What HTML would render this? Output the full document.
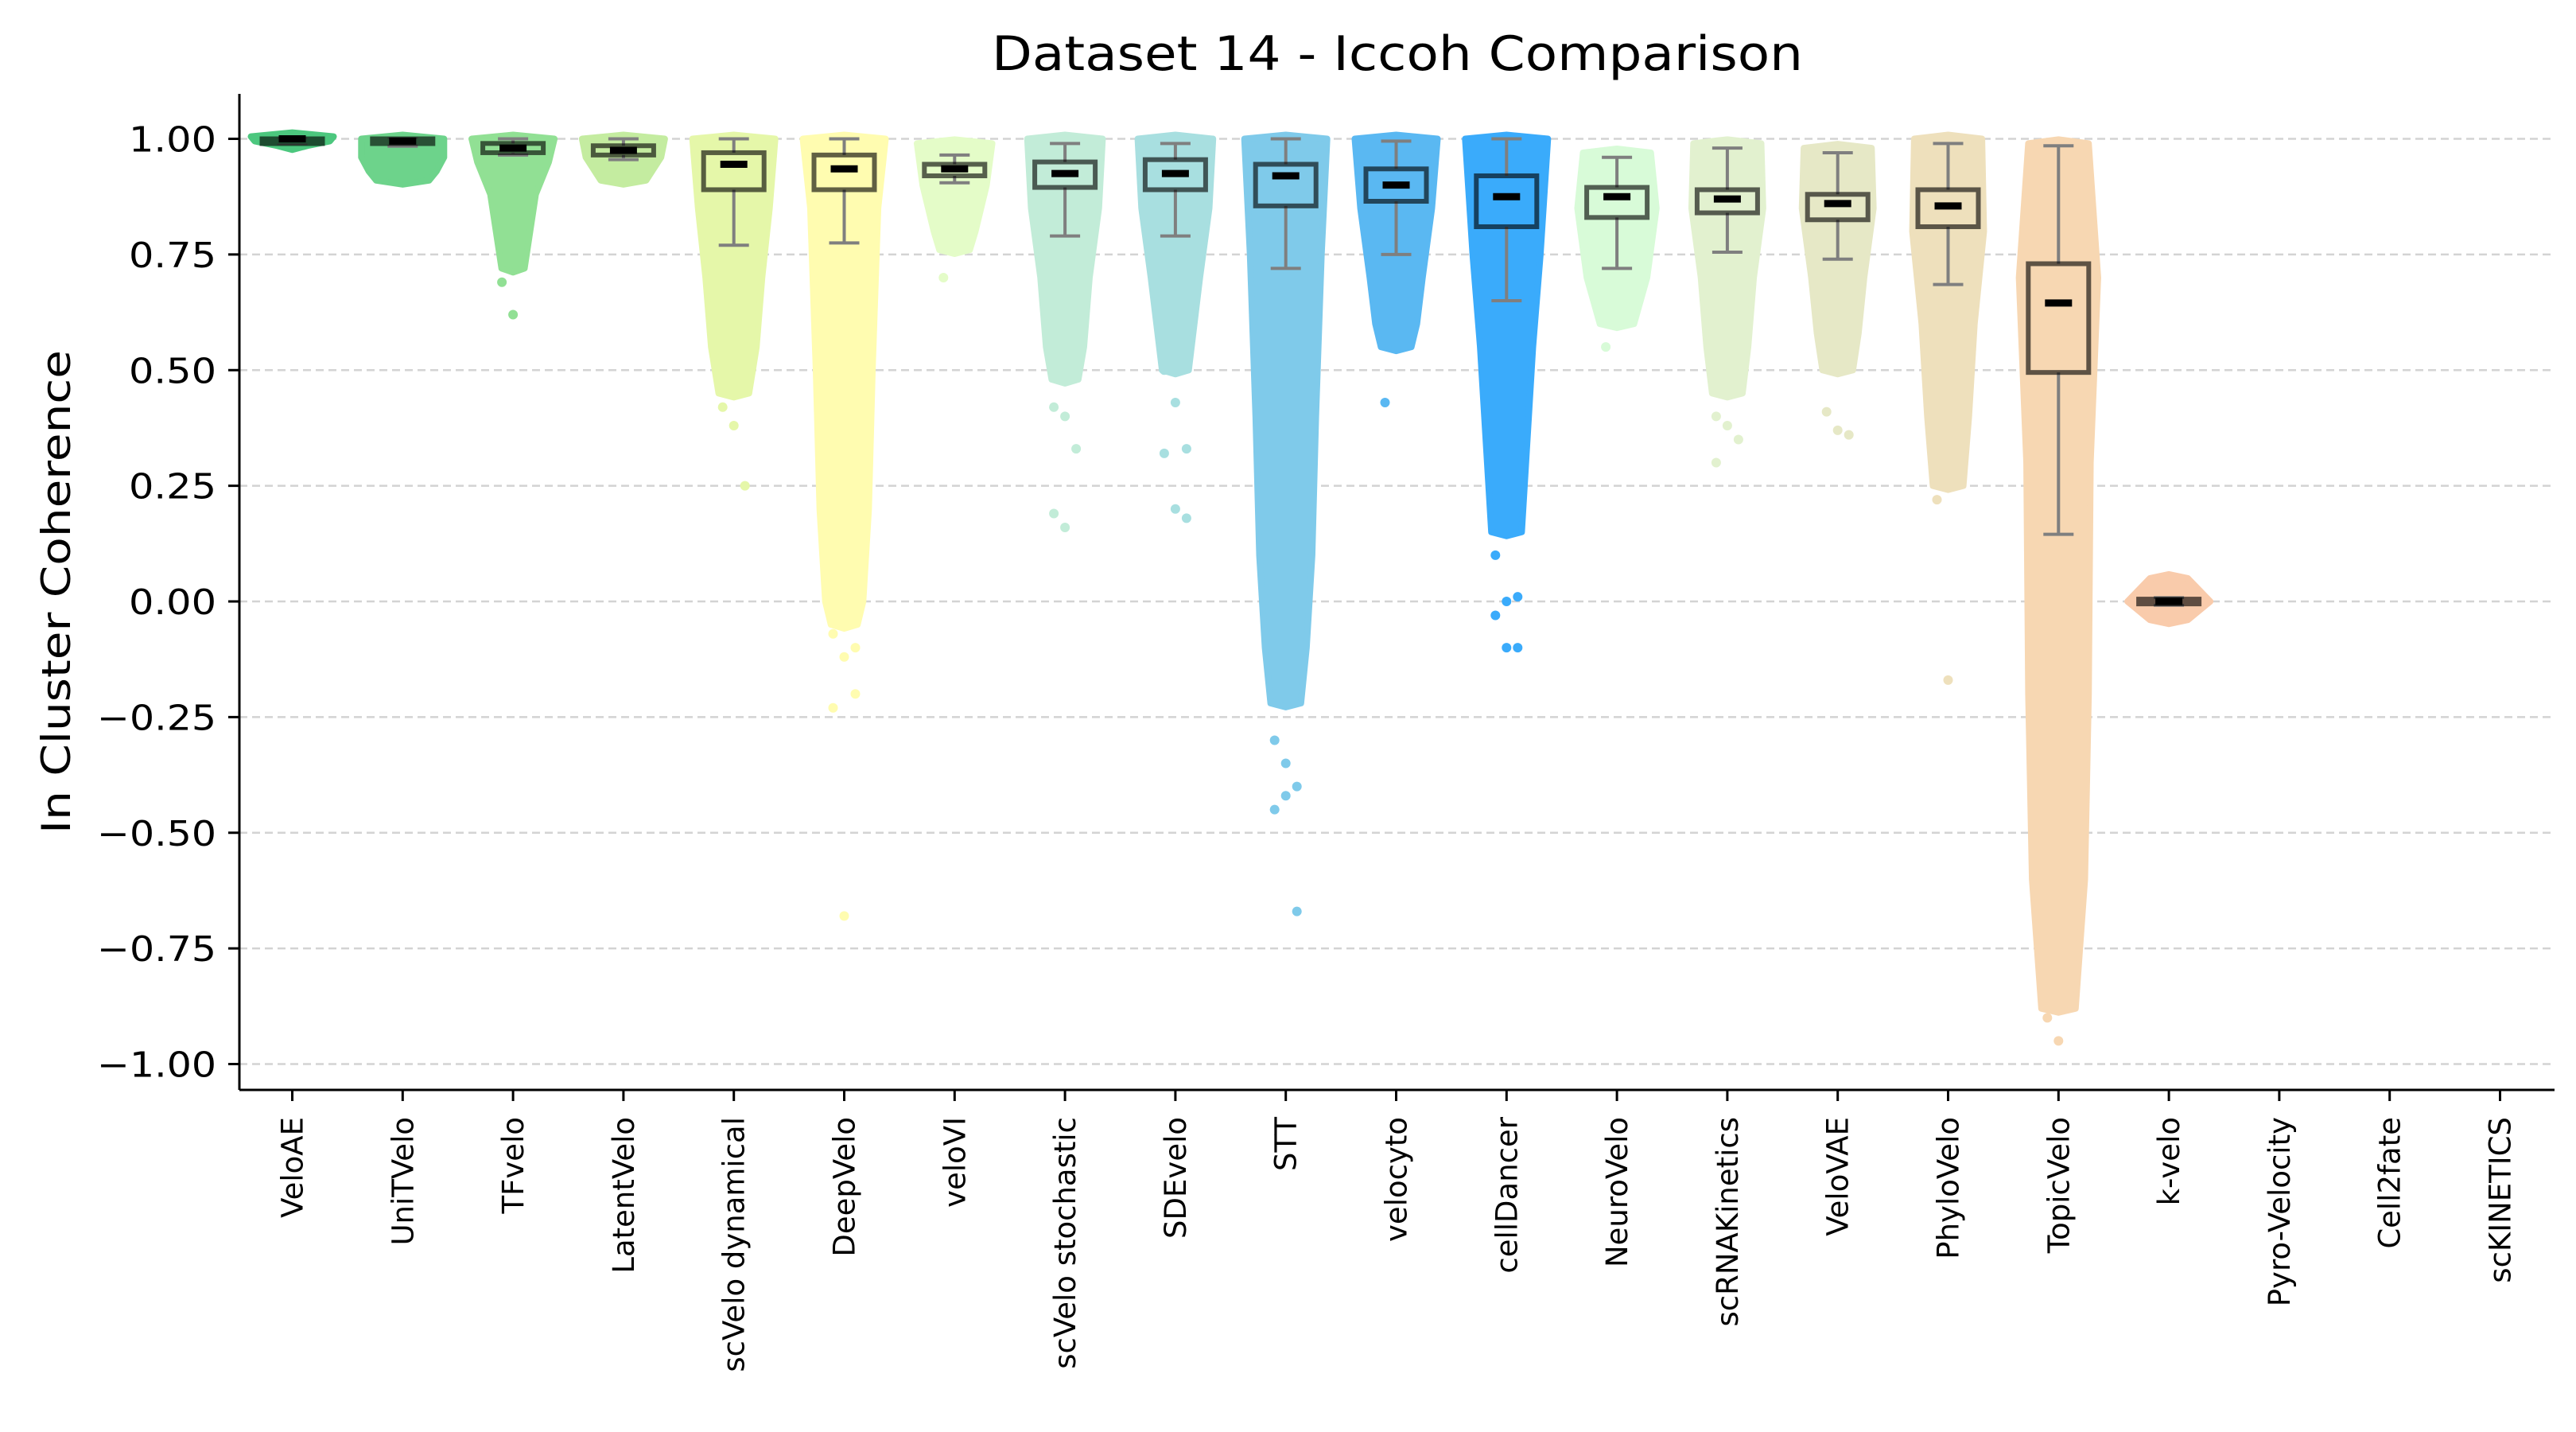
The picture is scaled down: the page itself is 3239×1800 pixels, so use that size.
<!DOCTYPE html>
<html><head><meta charset="utf-8"><style>
html,body{margin:0;padding:0;background:#fff;}
svg{display:block;font-family:"DejaVu Sans","Liberation Sans",sans-serif;}
</style></head><body>
<svg id="chart" width="3239" height="1800" viewBox="0 0 3239 1800" xmlns="http://www.w3.org/2000/svg">
<text x="1757" y="88" font-size="60" text-anchor="middle" textLength="1020" lengthAdjust="spacingAndGlyphs">Dataset 14 - Iccoh Comparison</text>
<text transform="translate(88,744) rotate(-90)" font-size="50" text-anchor="middle" textLength="608" lengthAdjust="spacingAndGlyphs">In Cluster Coherence</text>
<g id="grid"></g><g id="strips"></g><g id="boxes"></g><g id="axes"></g>
</svg>
<script>
const categories=["VeloAE","UniTVelo","TFvelo","LatentVelo","scVelo dynamical","DeepVelo","veloVI","scVelo stochastic","SDEvelo","STT","velocyto","cellDancer","NeuroVelo","scRNAKinetics","VeloVAE","PhyloVelo","TopicVelo","k-velo","Pyro-Velocity","Cell2fate","scKINETICS"];
const colors=["#4cc77e","#6dd38b","#91e094","#c4eca0","#e5f7a9","#fffcb0","#e4fcc8","#c2ecd8","#a8dfe0","#7fcaea","#5ab8f2","#3aabfb","#d8fbd8","#e2f1cf","#e6e8c6","#eee0bc","#f7d7b2","#f9cbab","#ddd","#ddd","#ddd"];
const whiskerLow=[0.99,0.984,0.965,0.955,0.77,0.775,0.905,0.79,0.79,0.72,0.75,0.65,0.72,0.755,0.74,0.685,0.145,-0.008,null,null,null];
const q1=[0.995,0.99,0.97,0.965,0.89,0.89,0.92,0.895,0.89,0.855,0.865,0.81,0.83,0.84,0.825,0.81,0.495,-0.005,null,null,null];
const medians=[1.0,0.995,0.98,0.975,0.945,0.935,0.935,0.925,0.925,0.92,0.9,0.875,0.875,0.87,0.86,0.855,0.645,0.0,null,null,null];
const q3=[1.0,1.0,0.99,0.985,0.97,0.965,0.945,0.95,0.955,0.945,0.935,0.92,0.895,0.89,0.88,0.89,0.73,0.005,null,null,null];
const whiskerHigh=[1.0,1.0,1.0,1.0,1.0,1.0,0.965,0.99,0.99,1.0,0.995,1.0,0.96,0.98,0.97,0.99,0.985,0.008,null,null,null];
// strip envelopes: values (top->bottom) and relative spread widths
const stripValues=[[1.005,0.995,0.985],[1.0,0.96,0.93,0.91],[1.0,0.95,0.88,0.8,0.72],[1.0,0.96,0.91],[1.0,0.85,0.7,0.55,0.45],[1.0,0.85,0.5,0.2,0.0,-0.05],[0.99,0.9,0.8,0.76],[1.0,0.85,0.7,0.55,0.48],[1.0,0.85,0.7,0.6,0.5],[1.0,0.75,0.4,0.1,-0.1,-0.22],[1.0,0.85,0.7,0.6,0.55],[1.0,0.75,0.55,0.35,0.15],[0.97,0.85,0.7,0.6],[0.99,0.85,0.7,0.55,0.45],[0.98,0.85,0.7,0.58,0.5],[1.0,0.8,0.6,0.4,0.25],[0.99,0.7,0.3,-0.2,-0.6,-0.88],[0.05,0.0,-0.04],[],[],[]];
const stripWidths=[[1,0.9,0.3],[1,1,0.8,0.6],[1,0.85,0.5,0.35,0.2],[1,0.9,0.5],[1,0.85,0.65,0.5,0.3],[1,0.8,0.65,0.55,0.4,0.25],[0.9,0.75,0.45,0.3],[0.9,0.8,0.55,0.4,0.25],[0.9,0.8,0.55,0.4,0.25],[1,0.85,0.7,0.6,0.45,0.3],[1,0.85,0.6,0.45,0.3],[1,0.8,0.6,0.45,0.3],[0.8,0.95,0.7,0.35],[0.8,0.85,0.6,0.45,0.3],[0.8,0.85,0.6,0.45,0.3],[0.8,0.85,0.6,0.45,0.3],[0.7,0.95,0.75,0.7,0.6,0.35],[0.4,1,0.4],[],[],[]];
const outliers=[[],[],[0.69,0.62],[],[0.42,0.38,0.25],[-0.07,-0.12,-0.2,-0.23,-0.68,-0.1,0.05],[0.70],[0.42,0.4,0.33,0.19,0.16],[0.5,0.43,0.33,0.32,0.2,0.18],[-0.3,-0.35,-0.4,-0.45,-0.42,-0.67],[0.43],[0.1,0.0,0.01,-0.03,-0.1,-0.1],[0.55],[0.4,0.38,0.35,0.3],[0.41,0.37,0.36],[0.22,-0.17],[-0.9,-0.95],[],[],[],[]];
const yTicks=[1.0,0.75,0.5,0.25,0.0,-0.25,-0.5,-0.75,-1.0];
const yTickLabels=["1.00","0.75","0.50","0.25","0.00","\u22120.25","\u22120.50","\u22120.75","\u22121.00"];

const NS="http://www.w3.org/2000/svg";
const L=301,R=3212,T=118,B=1370;
const y=v=>756-v*581.5;
const x=i=>367.5+i*138.8;
function mk(tag,parent,attrs){const e=document.createElementNS(NS,tag);for(const k in attrs)e.setAttribute(k,attrs[k]);document.getElementById(parent).appendChild(e);return e;}

yTicks.forEach((t,i)=>{
  const g=mk('line','grid',{x1:L,x2:R,y1:y(t),y2:y(t),stroke:'#d3d3d3','stroke-width':2.5,'stroke-dasharray':'10 6'});
  
  
  const tk=mk('line','axes',{x1:L-14,x2:L,y1:y(t),y2:y(t),stroke:'#000','stroke-width':3});
  
  
  const lb=mk('text','axes',{x:272,y:y(t)+16,'font-size':44,'text-anchor':'end',textLength:yTickLabels[i].length>4?150:110,lengthAdjust:'spacingAndGlyphs'});
  lb.textContent=yTickLabels[i];
  
  
});
const SW=47,BW=38,PAD=5;
categories.forEach((c,i)=>{
  const cx=x(i);
  const vs=stripValues[i],ws=stripWidths[i];
  if(vs.length){
    let left=[],right=[];
    vs.forEach((v,k)=>{const w=ws[k]*SW+PAD;right.push([cx+w,y(v)]);left.unshift([cx-w,y(v)]);});
    const top=y(vs[0])-PAD,bot=y(vs[vs.length-1])+PAD;
    const pts=[[cx,top]].concat(right,[[cx,bot]],left);
    const p=mk('polygon','strips',{points:pts.map(p=>p.join(',')).join(' '),fill:colors[i],stroke:colors[i],'stroke-width':8,'stroke-linejoin':'round'});
    
    
  }
  outliers[i].forEach((v,k)=>{
    const d=mk('circle','strips',{cx:cx+((k%3)-1)*14,cy:y(v),r:6,fill:colors[i]});
    
    
  });
  if(medians[i]!==null){
    const wl=mk('line','boxes',{x1:cx,x2:cx,y1:y(whiskerHigh[i]),y2:y(whiskerLow[i]),stroke:'#7f7f7f','stroke-width':4});
    
    
    [whiskerHigh[i],whiskerLow[i]].forEach(v=>{
      const cap=mk('line','boxes',{x1:cx-19,x2:cx+19,y1:y(v),y2:y(v),stroke:'#7f7f7f','stroke-width':4});
      
      
    });
    const h=Math.max(y(q1[i])-y(q3[i]),6);
    const bx=mk('rect','boxes',{x:cx-BW,y:y(q3[i]),width:2*BW,height:h,fill:colors[i],stroke:'rgba(0,0,0,0.62)','stroke-width':6});
    
    
    const md=mk('line','boxes',{x1:cx-17,x2:cx+17,y1:y(medians[i]),y2:y(medians[i]),stroke:'#000','stroke-width':9});
    
    
  }
  const xt=mk('line','axes',{x1:cx,x2:cx,y1:B,y2:B+14,stroke:'#000','stroke-width':3});
  
  
  const xl=mk('text','axes',{transform:`translate(${cx+13},${B+34}) rotate(-90)`,'font-size':37,'text-anchor':'end'});
  xl.textContent=c;
  
  
});
const ax1=mk('line','axes',{x1:L,x2:L,y1:T,y2:B,stroke:'#000','stroke-width':3});


const ax2=mk('line','axes',{x1:L,x2:R,y1:B,y2:B,stroke:'#000','stroke-width':3});


</script>
</body></html>
